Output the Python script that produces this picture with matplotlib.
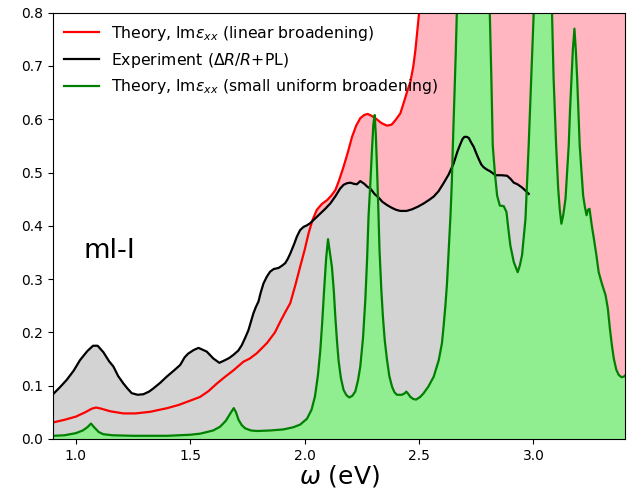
import numpy as np
import matplotlib
matplotlib.use("Agg")
import matplotlib.pyplot as plt

# Theory, linear broadening (red)
red_x = [0.90, 0.95, 1.00, 1.04, 1.07, 1.088, 1.11, 1.15, 1.208, 1.26, 1.324, 1.40, 1.45, 1.50,
         1.543, 1.58, 1.616, 1.65, 1.689, 1.732, 1.76, 1.791, 1.835, 1.87, 1.893, 1.915, 1.937,
         1.96, 1.98, 2.00, 2.017, 2.035, 2.053, 2.075, 2.097, 2.115, 2.134, 2.15, 2.17, 2.19,
         2.207, 2.225, 2.243, 2.26, 2.275, 2.29, 2.309, 2.335, 2.36, 2.38, 2.396, 2.418, 2.435,
         2.45, 2.462, 2.475, 2.484, 2.492, 2.50, 2.51, 2.55, 2.65, 2.8, 3.0, 3.2, 3.4]
red_y = [0.031, 0.036, 0.042, 0.050, 0.057, 0.059, 0.057, 0.052, 0.048, 0.048, 0.051, 0.058, 0.064, 0.072,
         0.079, 0.090, 0.104, 0.116, 0.129, 0.145, 0.151, 0.161, 0.180, 0.200, 0.220, 0.238, 0.255,
         0.290, 0.323, 0.355, 0.386, 0.412, 0.430, 0.441, 0.448, 0.456, 0.467, 0.485, 0.511, 0.540,
         0.567, 0.588, 0.602, 0.608, 0.610, 0.607, 0.602, 0.593, 0.588, 0.590, 0.598, 0.611, 0.634,
         0.655, 0.670, 0.700, 0.730, 0.765, 0.800, 0.840, 0.950, 1.100, 1.200, 1.250, 1.150, 1.000]

# Experiment (black)
exp_x = [0.90, 0.93, 0.96, 0.99, 1.018, 1.05, 1.075, 1.095, 1.12, 1.145, 1.164, 1.185, 1.208, 1.225,
         1.244, 1.27, 1.295, 1.32, 1.339, 1.37, 1.397, 1.43, 1.456, 1.475, 1.49, 1.515, 1.536,
         1.572, 1.601, 1.627, 1.652, 1.67, 1.689, 1.71, 1.725, 1.74, 1.754, 1.765, 1.776, 1.787,
         1.798, 1.808, 1.82, 1.835, 1.849, 1.865, 1.886, 1.90, 1.915, 1.926, 1.937, 1.955, 1.966,
         1.98, 1.995, 2.01, 2.024, 2.046, 2.068, 2.09, 2.112, 2.135, 2.155, 2.17, 2.185, 2.20,
         2.214, 2.228, 2.243, 2.26, 2.275, 2.287, 2.305, 2.323, 2.34, 2.36, 2.38, 2.40, 2.418,
         2.445, 2.469, 2.495, 2.52, 2.545, 2.564, 2.585, 2.607, 2.63, 2.651, 2.668, 2.68, 2.69,
         2.698, 2.708, 2.717, 2.728, 2.739, 2.75, 2.76, 2.772, 2.782, 2.795, 2.812, 2.834, 2.86,
         2.885, 2.90, 2.914, 2.93, 2.95, 2.965, 2.979]
exp_y = [0.084, 0.097, 0.111, 0.128, 0.148, 0.165, 0.175, 0.175, 0.163, 0.146, 0.136, 0.118, 0.104, 0.095,
         0.086, 0.083, 0.084, 0.089, 0.095, 0.106, 0.117, 0.129, 0.139, 0.153, 0.160, 0.167, 0.171,
         0.164, 0.151, 0.143, 0.148, 0.152, 0.158, 0.166, 0.176, 0.190, 0.204, 0.220, 0.236, 0.248,
         0.258, 0.275, 0.292, 0.305, 0.314, 0.319, 0.321, 0.325, 0.330, 0.338, 0.348, 0.367, 0.380,
         0.392, 0.398, 0.401, 0.405, 0.414, 0.423, 0.432, 0.442, 0.456, 0.470, 0.477, 0.480, 0.481,
         0.479, 0.478, 0.484, 0.479, 0.473, 0.470, 0.460, 0.453, 0.445, 0.439, 0.434, 0.430, 0.428,
         0.428, 0.431, 0.436, 0.442, 0.449, 0.455, 0.465, 0.480, 0.497, 0.517, 0.540, 0.553, 0.563,
         0.567, 0.567, 0.565, 0.556, 0.548, 0.536, 0.526, 0.515, 0.510, 0.506, 0.502, 0.495, 0.495,
         0.494, 0.488, 0.481, 0.478, 0.472, 0.466, 0.460]

# Theory, small uniform broadening (green)
grn_x = [0.90, 0.95, 1.00, 1.03, 1.05, 1.066, 1.08, 1.10, 1.12, 1.16, 1.25, 1.40, 1.50, 1.543,
         1.60, 1.63, 1.655, 1.675, 1.69, 1.70, 1.711, 1.725, 1.74, 1.765, 1.791, 1.85, 1.907,
         1.95, 1.98, 2.01, 2.03, 2.045, 2.058, 2.068, 2.076, 2.085, 2.094, 2.102, 2.11, 2.119,
         2.127, 2.134, 2.141, 2.148, 2.158, 2.17, 2.183, 2.195, 2.208, 2.221, 2.233, 2.243,
         2.255, 2.265, 2.273, 2.279, 2.287, 2.294, 2.300, 2.306, 2.311, 2.316, 2.322, 2.327,
         2.335, 2.342, 2.35, 2.36, 2.37, 2.382, 2.392, 2.403, 2.425, 2.438, 2.444, 2.452, 2.462,
         2.475, 2.487, 2.505, 2.52, 2.54, 2.564, 2.586, 2.60, 2.607, 2.615, 2.622, 2.63, 2.637,
         2.643, 2.647, 2.654, 2.66, 2.665, 2.68, 2.72, 2.78, 2.805, 2.809, 2.816, 2.822, 2.831,
         2.841, 2.853, 2.87, 2.882, 2.89, 2.899, 2.914, 2.931, 2.94, 2.95, 2.965, 2.972, 2.979,
         2.99, 2.997, 3.001, 3.02, 3.04, 3.065, 3.078, 3.081, 3.088, 3.099, 3.108, 3.115, 3.122,
         3.13, 3.14, 3.147, 3.154, 3.16, 3.166, 3.172, 3.179, 3.185, 3.191, 3.202, 3.217, 3.225,
         3.232, 3.238, 3.245, 3.255, 3.264, 3.275, 3.285, 3.30, 3.315, 3.325, 3.334, 3.343,
         3.351, 3.362, 3.373, 3.385, 3.395, 3.40]
grn_y = [0.006, 0.007, 0.011, 0.016, 0.022, 0.029, 0.022, 0.013, 0.009, 0.007, 0.006, 0.006, 0.008, 0.010,
         0.016, 0.023, 0.034, 0.048, 0.058, 0.050, 0.036, 0.026, 0.020, 0.016, 0.015, 0.016, 0.018,
         0.022, 0.027, 0.038, 0.055, 0.080, 0.120, 0.165, 0.215, 0.280, 0.340, 0.375, 0.350, 0.323,
         0.280, 0.229, 0.185, 0.148, 0.115, 0.092, 0.082, 0.078, 0.081, 0.089, 0.110, 0.136,
         0.190, 0.261, 0.340, 0.417, 0.480, 0.542, 0.590, 0.608, 0.570, 0.511, 0.430, 0.355,
         0.280, 0.229, 0.185, 0.148, 0.118, 0.098, 0.088, 0.083, 0.083, 0.086, 0.089, 0.085, 0.079,
         0.075, 0.074, 0.079, 0.086, 0.098, 0.117, 0.148, 0.180, 0.211, 0.250, 0.292, 0.360, 0.417,
         0.480, 0.542, 0.636, 0.720, 0.800, 0.950, 1.100, 0.950, 0.820, 0.800, 0.676, 0.551, 0.501,
         0.457, 0.438, 0.437, 0.426, 0.395, 0.363, 0.332, 0.313, 0.325, 0.345, 0.413, 0.480, 0.551,
         0.676, 0.760, 0.800, 0.950, 1.050, 0.950, 0.820, 0.800, 0.676, 0.551, 0.470, 0.430, 0.404,
         0.420, 0.451, 0.500, 0.551, 0.620, 0.676, 0.730, 0.770, 0.730, 0.676, 0.551, 0.457, 0.435,
         0.420, 0.430, 0.432, 0.400, 0.376, 0.345, 0.313, 0.290, 0.270, 0.245, 0.207, 0.175,
         0.151, 0.130, 0.120, 0.116, 0.117, 0.119]

labels = ["Theory, Im$\\varepsilon_{xx}$ (linear broadening)",
          "Experiment ($\\Delta R/R$+PL)",
          "Theory, Im$\\varepsilon_{xx}$ (small uniform broadening)"]

fig = plt.figure(figsize=(6.33, 4.97), dpi=100)
ax = fig.add_axes([53/633, 1 - 439/497, (625-53)/633, (439-12.7)/497])

ax.fill_between(red_x, 0, red_y, color="lightpink", lw=0)
ax.fill_between(exp_x, 0, exp_y, color="lightgray", lw=0)
ax.fill_between(grn_x, 0, grn_y, color="lightgreen", lw=0)
ax.plot(red_x, red_y, color="red", lw=1.6, label=labels[0], solid_joinstyle="round")
ax.plot(exp_x, exp_y, color="black", lw=1.6, label=labels[1], solid_joinstyle="round")
ax.plot(grn_x, grn_y, color="green", lw=1.6, label=labels[2], solid_joinstyle="round")

ax.set_xlim(0.9, 3.4)
ax.set_ylim(0, 0.8)
ax.set_xticks([1.0, 1.5, 2.0, 2.5, 3.0])
ax.set_yticks([0.0, 0.1, 0.2, 0.3, 0.4, 0.5, 0.6, 0.7, 0.8])
ax.tick_params(labelsize=10)
ax.set_xlabel("$\\omega$ (eV)", fontsize=18, labelpad=0)
ax.text(1.033, 0.339, "ml-I", fontsize=19.5, ha="left", va="baseline")
ax.legend(loc="upper left", frameon=False, fontsize=11.3, handlelength=2.2,
          borderaxespad=0.3)

fig.savefig("out.png", dpi=100)
